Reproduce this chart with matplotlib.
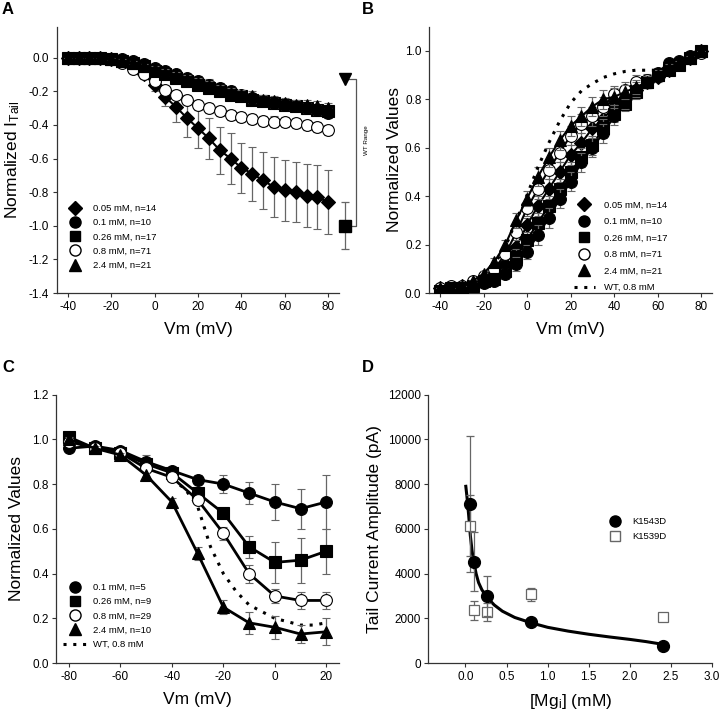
import matplotlib
matplotlib.use('Agg')
import matplotlib.pyplot as plt
from matplotlib.lines import Line2D

plt.rcParams['font.family'] = ['Liberation Sans', 'DejaVu Sans']
plt.rcParams['mathtext.fontset'] = 'custom'
plt.rcParams['mathtext.rm'] = 'Liberation Sans'
plt.rcParams['mathtext.it'] = 'Liberation Sans:italic'
plt.rcParams['axes.unicode_minus'] = False

# ---------------- Panel A data ----------------
vm_a = [-40, -35, -30, -25, -20, -15, -10, -5, 0, 5, 10, 15, 20, 25, 30, 35, 40, 45, 50, 55, 60, 65, 70, 75, 80]
a_005 = [0, 0, 0, 0, -0.01, -0.02, -0.05, -0.10, -0.16, -0.235, -0.295, -0.36, -0.42, -0.48, -0.55, -0.60, -0.655, -0.69, -0.73, -0.77, -0.79, -0.80, -0.82, -0.83, -0.86]
a_005_err = [0, 0, 0, 0, 0.01, 0.01, 0.02, 0.03, 0.04, 0.055, 0.085, 0.11, 0.12, 0.12, 0.14, 0.15, 0.15, 0.16, 0.17, 0.18, 0.18, 0.18, 0.19, 0.19, 0.19]
a_01 = [0, 0, 0, 0, -0.01, -0.01, -0.02, -0.04, -0.06, -0.08, -0.10, -0.12, -0.14, -0.16, -0.18, -0.20, -0.22, -0.24, -0.26, -0.27, -0.28, -0.29, -0.30, -0.31, -0.33]
a_026 = [0, 0, 0, 0, -0.01, -0.02, -0.03, -0.05, -0.08, -0.10, -0.12, -0.14, -0.16, -0.18, -0.20, -0.22, -0.23, -0.25, -0.26, -0.27, -0.28, -0.29, -0.30, -0.31, -0.32]
a_08 = [0, 0, 0, 0, -0.01, -0.03, -0.07, -0.10, -0.14, -0.19, -0.22, -0.25, -0.28, -0.30, -0.32, -0.34, -0.355, -0.365, -0.375, -0.38, -0.385, -0.39, -0.40, -0.41, -0.43]
a_24 = [0, 0, 0, 0, -0.01, -0.02, -0.03, -0.05, -0.07, -0.09, -0.11, -0.13, -0.15, -0.17, -0.19, -0.21, -0.22, -0.23, -0.25, -0.26, -0.27, -0.28, -0.28, -0.29, -0.30]
a_small_err = [0, 0, 0, 0, 0.005, 0.01, 0.01, 0.015, 0.02, 0.02, 0.025, 0.025, 0.03, 0.03, 0.03, 0.03, 0.03, 0.03, 0.03, 0.03, 0.03, 0.03, 0.03, 0.03, 0.03]
wt_range_x = 87.5
wt_range_top = -0.125
wt_range_bottom = -1.0
wt_range_bottom_err = 0.14

# ---------------- Panel B data ----------------
vm_b = vm_a
b_005 = [0.02, 0.02, 0.03, 0.04, 0.05, 0.07, 0.12, 0.19, 0.28, 0.36, 0.43, 0.50, 0.57, 0.62, 0.68, 0.72, 0.77, 0.80, 0.84, 0.87, 0.89, 0.92, 0.95, 0.97, 1.0]
b_01 = [0.01, 0.01, 0.02, 0.03, 0.04, 0.05, 0.08, 0.12, 0.17, 0.24, 0.31, 0.39, 0.46, 0.54, 0.60, 0.66, 0.73, 0.79, 0.84, 0.87, 0.91, 0.95, 0.96, 0.98, 1.0]
b_026 = [0.01, 0.02, 0.02, 0.03, 0.05, 0.06, 0.09, 0.15, 0.22, 0.29, 0.36, 0.43, 0.50, 0.56, 0.61, 0.68, 0.74, 0.78, 0.83, 0.87, 0.90, 0.92, 0.94, 0.97, 1.0]
b_08 = [0.02, 0.03, 0.03, 0.05, 0.07, 0.10, 0.16, 0.25, 0.35, 0.43, 0.51, 0.58, 0.65, 0.70, 0.73, 0.77, 0.82, 0.84, 0.87, 0.88, 0.90, 0.93, 0.95, 0.97, 0.99]
b_24 = [0.02, 0.02, 0.03, 0.05, 0.08, 0.13, 0.20, 0.30, 0.39, 0.48, 0.56, 0.63, 0.69, 0.73, 0.77, 0.80, 0.81, 0.83, 0.85, 0.87, 0.90, 0.93, 0.95, 0.97, 1.0]
b_err = [0, 0, 0, 0.005, 0.01, 0.015, 0.02, 0.03, 0.03, 0.04, 0.04, 0.04, 0.04, 0.04, 0.04, 0.04, 0.035, 0.03, 0.03, 0.025, 0.02, 0.015, 0.01, 0.01, 0]
vm_b_wt = [-40, -35, -30, -25, -20, -15, -10, -5, 0, 5, 10, 15, 20, 25, 30, 35, 40, 45, 50, 55, 60]
b_wt = [0.01, 0.015, 0.025, 0.045, 0.075, 0.12, 0.19, 0.30, 0.405, 0.52, 0.62, 0.71, 0.785, 0.835, 0.865, 0.89, 0.905, 0.915, 0.92, 0.92, 0.92]

# ---------------- Panel C data ----------------
vm_c = [-80, -70, -60, -50, -40, -30, -20, -10, 0, 10, 20]
c_01 = [0.96, 0.97, 0.95, 0.90, 0.86, 0.82, 0.80, 0.76, 0.72, 0.69, 0.72]
c_01_err = [0.01, 0.01, 0.01, 0.03, 0.01, 0.02, 0.04, 0.05, 0.08, 0.09, 0.12]
c_026 = [1.01, 0.96, 0.94, 0.89, 0.85, 0.76, 0.67, 0.52, 0.45, 0.46, 0.50]
c_026_err = [0.01, 0.01, 0.01, 0.02, 0.01, 0.02, 0.02, 0.05, 0.09, 0.10, 0.10]
c_08 = [0.99, 0.96, 0.94, 0.87, 0.83, 0.73, 0.58, 0.40, 0.30, 0.28, 0.28]
c_08_err = [0.01, 0.01, 0.01, 0.01, 0.01, 0.01, 0.03, 0.04, 0.03, 0.04, 0.04]
c_24 = [1.00, 0.96, 0.93, 0.84, 0.72, 0.49, 0.25, 0.18, 0.16, 0.13, 0.14]
c_24_err = [0.01, 0.01, 0.01, 0.01, 0.02, 0.03, 0.03, 0.05, 0.05, 0.04, 0.06]
vm_c_wt = [-40, -35, -30, -25, -20, -15, -10, -5, 0, 5, 10, 15, 20]
c_wt = [0.82, 0.78, 0.70, 0.52, 0.40, 0.32, 0.26, 0.23, 0.20, 0.185, 0.17, 0.17, 0.18]

# ---------------- Panel D data ----------------
mg = [0.05, 0.1, 0.26, 0.8, 2.4]
k1543d = [7110, 4536, 2994, 1841, 778]
k1543d_err = [3020, 1320, 900, 150, 100]
k1539d = [6140, 2365, 2275, 3070, 2080]
k1539d_err = [1360, 420, 400, 290, 150]
fit_x = [0.005, 0.02, 0.04, 0.06, 0.08, 0.1, 0.13, 0.16, 0.2, 0.26, 0.35, 0.45, 0.6, 0.8, 1.0, 1.25, 1.5, 1.75, 2.0, 2.2, 2.4]
fit_y = [7900, 7400, 6600, 5700, 5050, 4560, 4000, 3600, 3280, 2950, 2600, 2320, 2040, 1800, 1600, 1430, 1290, 1170, 1060, 960, 840]

ECOL = '#666666'
SPC = '#333333'
TICK_FS = 8.5
LAB_FS = 12.5
LEG_FS = 6.8

fig = plt.figure(figsize=(7.2, 7.2), dpi=100)
axA = fig.add_axes([0.079, 0.593, 0.392, 0.369])
axB = fig.add_axes([0.596, 0.593, 0.393, 0.370])
axC = fig.add_axes([0.078, 0.079, 0.393, 0.373])
axD = fig.add_axes([0.595, 0.079, 0.394, 0.373])


def style(ax):
    for s in ['top', 'right']:
        ax.spines[s].set_visible(False)
    for s in ['left', 'bottom']:
        ax.spines[s].set_color(SPC)
        ax.spines[s].set_linewidth(0.9)
    ax.tick_params(direction='out', length=3, width=0.8, color=SPC, labelsize=TICK_FS, pad=2.5)


def series(ax, x, y, err, marker, ms, mfc='k', lw=1.5, z=3):
    ax.errorbar(x, y, yerr=err, fmt='-', marker=marker, ms=ms, mfc=mfc, mec='k', mew=0.8,
                color='k', lw=lw, ecolor=ECOL, elinewidth=0.9, capsize=3, capthick=0.9, zorder=z)

# ---------------- A ----------------
style(axA)
series(axA, vm_a, a_005, a_005_err, 'D', 7, z=3)
series(axA, vm_a, a_08, a_small_err, 'o', 8.5, mfc='white', z=4)
series(axA, vm_a, a_026, a_small_err, 's', 8, z=5)
series(axA, vm_a, a_01, a_small_err, 'o', 8.5, z=6)
series(axA, vm_a, a_24, a_small_err, '^', 8.5, z=7)
axA.plot([wt_range_x], [wt_range_top], marker='v', ms=8, color='k', ls='none', clip_on=False, zorder=8)
cont = axA.errorbar([wt_range_x], [wt_range_bottom], yerr=[wt_range_bottom_err], fmt='s', ms=8, color='k',
                    ecolor=ECOL, elinewidth=0.9, capsize=3, capthick=0.9, zorder=8)
cont.lines[0].set_clip_on(False)
for art in list(cont.lines[1]) + list(cont.lines[2]):
    art.set_clip_on(False)
axA.plot([wt_range_x + 1.5, 93, 93, wt_range_x + 1.5], [wt_range_top, wt_range_top, wt_range_bottom, wt_range_bottom],
         color='#555555', lw=0.9, clip_on=False, zorder=2)
axA.text(97.8, -0.49, 'WT Range', rotation=90, fontsize=4.5, ha='center', va='center')
axA.set_xlim(-45, 85)
axA.set_ylim(-1.4, 0.18)
axA.set_xticks([-40, -20, 0, 20, 40, 60, 80])
axA.set_yticks([-1.4, -1.2, -1.0, -0.8, -0.6, -0.4, -0.2, 0.0])
axA.set_yticklabels(['-1.4', '-1.2', '-1.0', '-0.8', '-0.6', '-0.4', '-0.2', '0.0'])
axA.set_xlabel('Vm (mV)', fontsize=LAB_FS, labelpad=7)
axA.set_ylabel(r'Normalized I$_{\mathrm{Tail}}$', fontsize=LAB_FS, labelpad=5)

leg_kw = dict(color='k', ls='none', mec='k')
hA = [Line2D([], [], marker='D', ms=7, **leg_kw),
      Line2D([], [], marker='o', ms=8, **leg_kw),
      Line2D([], [], marker='s', ms=7.5, **leg_kw),
      Line2D([], [], marker='o', ms=8, mfc='white', color='k', ls='none', mec='k'),
      Line2D([], [], marker='^', ms=8, **leg_kw)]
lA = ['0.05 mM, n=14', '0.1 mM, n=10', '0.26 mM, n=17', '0.8 mM, n=71', '2.4 mM, n=21']
axA.legend(hA, lA, loc='upper left', bbox_to_anchor=(0.044, 0.335), frameon=False, fontsize=LEG_FS,
           handlelength=1.2, handletextpad=1.3, labelspacing=0.55, borderaxespad=0, borderpad=0)

# ---------------- B ----------------
style(axB)
series(axB, vm_b, b_005, b_err, 'D', 7, z=3)
series(axB, vm_b, b_08, b_err, 'o', 8.5, mfc='white', z=4)
series(axB, vm_b, b_026, b_err, 's', 8, z=5)
series(axB, vm_b, b_01, b_err, 'o', 8.5, z=6)
series(axB, vm_b, b_24, b_err, '^', 8.5, z=7)
axB.plot(vm_b_wt, b_wt, ls=(0, (1, 2.2)), color='k', lw=2.2, zorder=8)
axB.set_xlim(-45, 85)
axB.set_ylim(0, 1.1)
axB.set_xticks([-40, -20, 0, 20, 40, 60, 80])
axB.set_yticks([0.0, 0.2, 0.4, 0.6, 0.8, 1.0])
axB.set_yticklabels(['0.0', '0.2', '0.4', '0.6', '0.8', '1.0'])
axB.set_xlabel('Vm (mV)', fontsize=LAB_FS, labelpad=7)
axB.set_ylabel('Normalized Values', fontsize=LAB_FS, labelpad=2)
hB = hA + [Line2D([], [], ls=(0, (1, 2.2)), lw=2.2, color='k')]
lB = lA + ['WT, 0.8 mM']
axB.legend(hB, lB, loc='lower left', bbox_to_anchor=(0.508, 0.0), frameon=False, fontsize=LEG_FS,
           handlelength=2.2, handletextpad=1.0, labelspacing=0.79, borderaxespad=0, borderpad=0.1)

# ---------------- C ----------------
style(axC)
series(axC, vm_c, c_01, c_01_err, 'o', 8.5, lw=2, z=3)
series(axC, vm_c, c_026, c_026_err, 's', 8, lw=2, z=4)
series(axC, vm_c, c_08, c_08_err, 'o', 8.5, mfc='white', lw=2, z=5)
series(axC, vm_c, c_24, c_24_err, '^', 8.5, lw=2, z=6)
axC.plot(vm_c_wt, c_wt, ls=(0, (1, 2.2)), color='k', lw=2.2, zorder=2)
axC.set_xlim(-85, 25)
axC.set_ylim(0, 1.2)
axC.set_xticks([-80, -60, -40, -20, 0, 20])
axC.set_yticks([0.0, 0.2, 0.4, 0.6, 0.8, 1.0, 1.2])
axC.set_yticklabels(['0.0', '0.2', '0.4', '0.6', '0.8', '1.0', '1.2'])
axC.set_xlabel('Vm (mV)', fontsize=LAB_FS, labelpad=7)
axC.set_ylabel('Normalized Values', fontsize=LAB_FS, labelpad=6)
hC = [Line2D([], [], marker='o', ms=8, **leg_kw),
      Line2D([], [], marker='s', ms=7.5, **leg_kw),
      Line2D([], [], marker='o', ms=8, mfc='white', color='k', ls='none', mec='k'),
      Line2D([], [], marker='^', ms=8, **leg_kw),
      Line2D([], [], ls=(0, (1, 2.2)), lw=2.2, color='k')]
lC = ['0.1 mM, n=5', '0.26 mM, n=9', '0.8 mM, n=29', '2.4 mM, n=10', 'WT, 0.8 mM']
axC.legend(hC, lC, loc='lower left', bbox_to_anchor=(0.025, 0.053), frameon=False, fontsize=LEG_FS,
           handlelength=2.55, handletextpad=0.6, labelspacing=0.55, borderaxespad=0, borderpad=0)

# ---------------- D ----------------
style(axD)
axD.plot(fit_x, fit_y, color='k', lw=2.2, zorder=3)
axD.errorbar(mg, k1539d, yerr=k1539d_err, fmt='s', ms=7.5, mfc='white', mec=ECOL, mew=0.9,
             ecolor=ECOL, elinewidth=0.9, capsize=3, capthick=0.9, zorder=4)
axD.errorbar(mg, k1543d, yerr=k1543d_err, fmt='o', ms=8.5, mfc='k', mec='k',
             ecolor=ECOL, elinewidth=0.9, capsize=3, capthick=0.9, zorder=5)
axD.set_xlim(-0.45, 3.0)
axD.set_ylim(0, 12000)
axD.set_xticks([0.0, 0.5, 1.0, 1.5, 2.0, 2.5, 3.0])
axD.set_xticklabels(['0.0', '0.5', '1.0', '1.5', '2.0', '2.5', '3.0'])
axD.set_yticks([0, 2000, 4000, 6000, 8000, 10000, 12000])
axD.set_xlabel(r'[Mg$_{\mathrm{i}}$] (mM)', fontsize=LAB_FS, labelpad=7)
axD.set_ylabel('Tail Current Amplitude (pA)', fontsize=LAB_FS, labelpad=4)
hD = [Line2D([], [], marker='o', ms=8, **leg_kw),
      Line2D([], [], marker='s', ms=7, mfc='white', mec=ECOL, color=ECOL, ls='none')]
axD.legend(hD, ['K1543D', 'K1539D'], loc='upper left', bbox_to_anchor=(0.639, 0.543), frameon=False,
           fontsize=LEG_FS, handlelength=1.2, handletextpad=1.17, labelspacing=0.65,
           borderaxespad=0, borderpad=0)

# panel letters
for lbl, (px, py) in {'A': (2, 2), 'B': (362, 2), 'C': (2, 360), 'D': (362, 360)}.items():
    fig.text(px / 720, 1 - py / 720, lbl, fontsize=12, fontweight='bold', ha='left', va='top')

fig.savefig('out.png', dpi=100)
